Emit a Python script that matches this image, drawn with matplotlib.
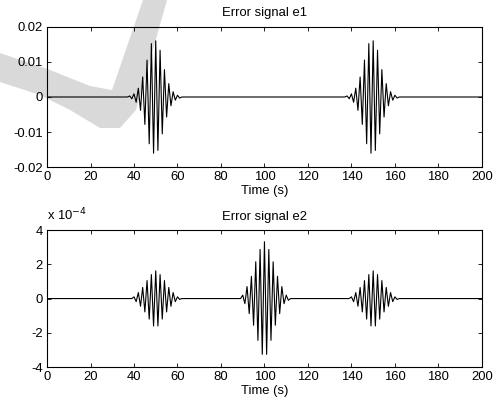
import numpy as np
import matplotlib
matplotlib.use("Agg")
import matplotlib.pyplot as plt
from matplotlib.patches import Polygon
from matplotlib.ticker import FuncFormatter, MultipleLocator

plt.rcParams["font.family"] = ["Liberation Sans", "DejaVu Sans"]
plt.rcParams["axes.unicode_minus"] = False

# extrema of the oscillation bursts (time in s)
e1_burst_a_t = [37, 38, 39, 40, 41, 42, 43, 44, 45, 46, 47, 48, 49,
                50, 51, 52, 53, 54, 55, 56, 57, 58, 59, 60, 61, 62]
e1_burst_b_t = [137, 138, 139, 140, 141, 142, 143, 144, 145, 146, 147, 148, 149,
                150, 151, 152, 153, 154, 155, 156, 157, 158, 159, 160, 161, 162]
e1_burst_v = [0.0, 0.0003, -0.0005, 0.0009, -0.0015, 0.0025, -0.0038, 0.0057,
              -0.0078, 0.0105, -0.0133, 0.0152, -0.0160, 0.0160, -0.0152, 0.0133,
              -0.0105, 0.0078, -0.0057, 0.0038, -0.0025, 0.0015, -0.0009, 0.0005,
              -0.0003, 0.0]

e2_side_a_t = [39, 40, 41, 42, 43, 44, 45, 46, 47, 48, 49, 50,
               51, 52, 53, 54, 55, 56, 57, 58, 59, 60, 61, 62]
e2_side_b_t = [139, 140, 141, 142, 143, 144, 145, 146, 147, 148, 149, 150,
               151, 152, 153, 154, 155, 156, 157, 158, 159, 160, 161, 162]
e2_side_v = [0.0, 0.10e-4, -0.18e-4, 0.35e-4, -0.45e-4, 0.65e-4, -0.78e-4, 1.05e-4,
             -1.20e-4, 1.40e-4, -1.60e-4, 1.62e-4, -1.60e-4, 1.40e-4, -1.20e-4,
             1.05e-4, -0.78e-4, 0.65e-4, -0.45e-4, 0.35e-4, -0.18e-4, 0.10e-4,
             -0.05e-4, 0.0]

e2_mid_t = [89, 90, 91, 92, 93, 94, 95, 96, 97, 98, 99, 100,
            101, 102, 103, 104, 105, 106, 107, 108, 109, 110, 111, 112]
e2_mid_v = [0.0, 0.20e-4, -0.30e-4, 0.70e-4, -0.88e-4, 1.30e-4, -1.56e-4, 2.15e-4,
            -2.44e-4, 2.87e-4, -3.26e-4, 3.32e-4, -3.26e-4, 2.87e-4, -2.44e-4,
            2.15e-4, -1.56e-4, 1.30e-4, -0.88e-4, 0.70e-4, -0.30e-4, 0.20e-4,
            -0.10e-4, 0.0]

t_start, t_end = 0, 200


def assemble(parts):
    t, v = [t_start], [0.0]
    for bt, bv in parts:
        t += list(bt)
        v += list(bv)
    t.append(t_end)
    v.append(0.0)
    return np.array(t, dtype=float), np.array(v, dtype=float)


t1, e1 = assemble([(e1_burst_a_t, e1_burst_v), (e1_burst_b_t, e1_burst_v)])
t2, e2 = assemble([(e2_side_a_t, e2_side_v), (e2_mid_t, e2_mid_v), (e2_side_b_t, e2_side_v)])

fs = 9.4
fig = plt.figure(figsize=(4.97, 4.05), dpi=100)
ax1 = fig.add_axes([0.0946, 0.587, 0.875, 0.347])
ax2 = fig.add_axes([0.0946, 0.0938, 0.875, 0.338])

ax1.plot(t1, e1, color="black", lw=0.8)
ax1.set_ylim(-0.02, 0.02)
ax1.yaxis.set_major_locator(MultipleLocator(0.01))
ax1.yaxis.set_major_formatter(FuncFormatter(lambda v, p: "0" if abs(v) < 1e-12 else f"{v:g}"))
ax1.set_title("Error signal e1", fontsize=fs, pad=7.5)

ax2.plot(t2, e2, color="black", lw=0.8)
ax2.set_ylim(-4e-4, 4e-4)
ax2.yaxis.set_major_locator(MultipleLocator(2e-4))
ax2.yaxis.set_major_formatter(FuncFormatter(lambda v, p: f"{round(v / 1e-4):d}"))
ax2.set_title("Error signal e2", fontsize=fs, pad=7.5)
ax2.text(0.0, 1.05, r"x 10$^{-4}$", transform=ax2.transAxes, fontsize=fs,
         ha="left", va="bottom")

for ax in (ax1, ax2):
    ax.set_xlim(t_start, t_end)
    ax.xaxis.set_major_locator(MultipleLocator(20))
    ax.set_xlabel("Time (s)", fontsize=fs, labelpad=1)
    ax.tick_params(direction="in", top=True, right=True, length=3, width=0.6,
                   labelsize=fs, pad=3)
    for s in ax.spines.values():
        s.set_linewidth(0.8)

# faint watermark swoosh seen over the top-left of the picture
W, H = 497.0, 405.0
mark_px = [(0, 53), (50, 70), (90, 86), (112, 90), (143, 0), (167, 0), (136, 110),
           (120, 128), (100, 128), (70, 110), (40, 95), (0, 82)]
fig.add_artist(Polygon([(x / W, 1 - y / H) for x, y in mark_px], closed=True,
                       transform=fig.transFigure, facecolor="black", edgecolor="none",
                       alpha=0.15, zorder=10))

fig.savefig("out.png", dpi=100)
